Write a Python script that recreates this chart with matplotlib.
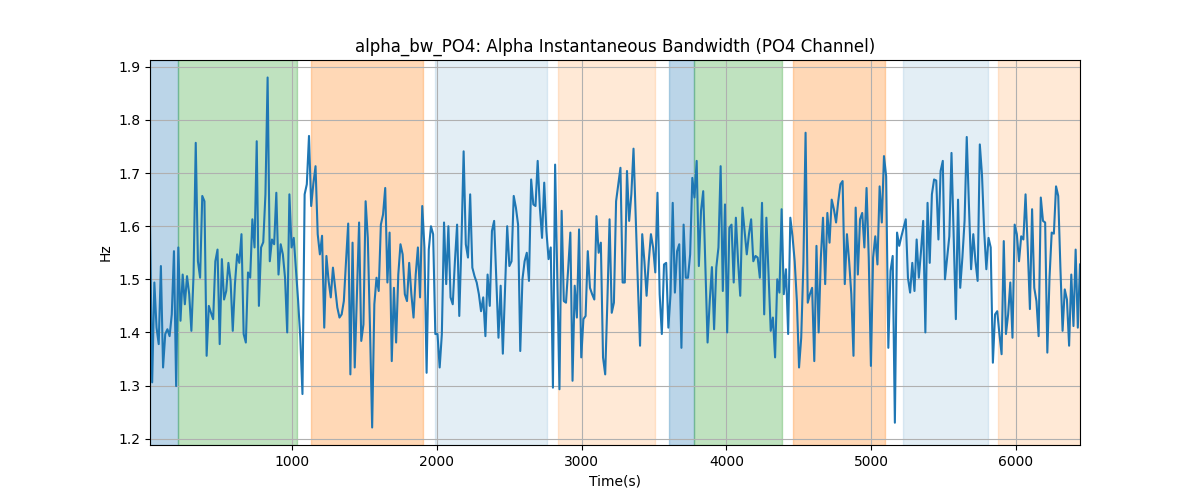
import numpy as np
import matplotlib
matplotlib.use("Agg")
import matplotlib.pyplot as plt

# Values, segment by segment (left to right)
seg1 = [1.597, 1.306, 1.494, 1.409, 1.378, 1.525, 1.334, 1.397, 1.406, 1.393,
        1.434, 1.553, 1.299, 1.560, 1.422, 1.509, 1.453, 1.506, 1.472, 1.403,
        1.509, 1.757, 1.534, 1.503, 1.657, 1.647, 1.356, 1.450, 1.437, 1.425,
        1.534, 1.556, 1.378, 1.538, 1.462, 1.478, 1.531, 1.497, 1.403, 1.491,
        1.547, 1.531, 1.585, 1.397, 1.381, 1.513, 1.503, 1.613, 1.560, 1.760,
        1.450, 1.560, 1.570, 1.660, 1.880]
seg2 = [1.534, 1.575, 1.566, 1.663, 1.509, 1.566, 1.547, 1.503, 1.400, 1.660,
        1.560, 1.578, 1.520, 1.460, 1.390, 1.284, 1.660, 1.679, 1.770, 1.638,
        1.680, 1.713, 1.585, 1.547, 1.582, 1.409, 1.544, 1.497, 1.466, 1.522,
        1.484, 1.447, 1.428, 1.434, 1.459, 1.534, 1.605, 1.321, 1.569, 1.334,
        1.472, 1.607, 1.384, 1.415, 1.647, 1.578, 1.409, 1.221, 1.453, 1.503,
        1.478, 1.603]
seg3 = [1.622, 1.672, 1.494, 1.588, 1.346, 1.484, 1.381, 1.509, 1.566, 1.547,
        1.472, 1.459, 1.531, 1.472, 1.428, 1.509, 1.560, 1.466, 1.638, 1.560,
        1.324, 1.556, 1.600, 1.585, 1.397, 1.397, 1.334, 1.397, 1.607, 1.491,
        1.600, 1.466, 1.453, 1.534, 1.603, 1.431, 1.569, 1.741, 1.566, 1.541,
        1.660, 1.522, 1.506, 1.494, 1.472, 1.440, 1.466, 1.393, 1.509, 1.450,
        1.591, 1.610, 1.500]
seg4 = [1.390, 1.488, 1.360, 1.480, 1.600, 1.525, 1.534, 1.657, 1.635, 1.603,
        1.365, 1.500, 1.534, 1.550, 1.497, 1.688, 1.641, 1.638, 1.723, 1.635,
        1.578, 1.682, 1.591, 1.538, 1.560, 1.296, 1.716, 1.500, 1.293, 1.629,
        1.459, 1.456, 1.520, 1.588, 1.309, 1.488, 1.428, 1.594, 1.353, 1.425,
        1.431, 1.553, 1.484, 1.472, 1.462, 1.619, 1.550, 1.569, 1.353, 1.321,
        1.459, 1.613, 1.437]
seg5 = [1.456, 1.647, 1.679, 1.710, 1.494, 1.494, 1.704, 1.610, 1.660, 1.746,
        1.616, 1.491, 1.375, 1.585, 1.534, 1.469, 1.534, 1.585, 1.560, 1.513,
        1.663, 1.472, 1.397, 1.528, 1.531, 1.409, 1.472, 1.644, 1.475, 1.553,
        1.566, 1.371, 1.603, 1.503, 1.503, 1.547, 1.691, 1.654, 1.723, 1.525,
        1.629, 1.666, 1.522, 1.381, 1.459, 1.523, 1.406, 1.522, 1.560, 1.713,
        1.478, 1.641, 1.400]
seg6 = [1.597, 1.603, 1.494, 1.616, 1.534, 1.469, 1.635, 1.591, 1.547, 1.585,
        1.613, 1.534, 1.544, 1.541, 1.503, 1.644, 1.434, 1.616, 1.509, 1.403,
        1.428, 1.353, 1.500, 1.475, 1.632, 1.472, 1.519, 1.397, 1.616, 1.581,
        1.534, 1.459, 1.334, 1.390, 1.530, 1.776, 1.456, 1.472, 1.484, 1.346,
        1.563, 1.400, 1.540, 1.616, 1.491, 1.625, 1.569, 1.650, 1.632, 1.607,
        1.647, 1.679, 1.685, 1.491]
seg7 = [1.585, 1.534, 1.472, 1.356, 1.635, 1.509, 1.613, 1.625, 1.560, 1.672,
        1.541, 1.337, 1.541, 1.581, 1.528, 1.675, 1.607, 1.732, 1.694, 1.371,
        1.516, 1.544, 1.230, 1.588, 1.563, 1.581, 1.597, 1.613, 1.503, 1.475,
        1.531, 1.478, 1.575, 1.503, 1.553, 1.610, 1.400, 1.644, 1.531, 1.660,
        1.688, 1.686, 1.575, 1.704, 1.723, 1.500, 1.541, 1.581, 1.738, 1.580,
        1.425, 1.650, 1.484]
seg8 = [1.541, 1.610, 1.768, 1.640, 1.519, 1.585, 1.534, 1.497, 1.754, 1.697,
        1.591, 1.519, 1.578, 1.560, 1.343, 1.434, 1.440, 1.397, 1.359, 1.572,
        1.397, 1.434, 1.494, 1.390, 1.603, 1.585, 1.534, 1.581, 1.575, 1.660,
        1.560, 1.444, 1.632, 1.484, 1.459, 1.393, 1.654, 1.610, 1.607, 1.362,
        1.503, 1.588, 1.586, 1.675, 1.657, 1.522, 1.403, 1.481, 1.462, 1.375,
        1.509, 1.412, 1.556, 1.409, 1.528]

bandwidth = seg1 + seg2 + seg3 + seg4 + seg5 + seg6 + seg7 + seg8
t_start, t_end = 18, 6443

# Shaded segments (start, end, colour, alpha)
span_starts = [15, 213, 1128, 1990, 2834, 3604, 3776, 4459, 5222, 5879]
span_ends = [213, 1033, 1907, 2758, 3505, 3776, 4383, 5097, 5807, 6443]
span_colors = ["C0", "C2", "C1", "C0", "C1", "C0", "C2", "C1", "C0", "C1"]
span_alphas = [0.3, 0.3, 0.3, 0.12, 0.17, 0.3, 0.3, 0.3, 0.12, 0.17]

time = np.linspace(t_start, t_end, len(bandwidth))

fig, ax = plt.subplots(figsize=(12, 5), dpi=100)
for s, e, c, a in zip(span_starts, span_ends, span_colors, span_alphas):
    ax.axvspan(s, e, color=c, alpha=a)
ax.plot(time, bandwidth, color="C0", linewidth=1.5)
ax.set_xlim(time[0], time[-1])
ax.grid(True)
ax.set_title("alpha_bw_PO4: Alpha Instantaneous Bandwidth (PO4 Channel)")
ax.set_xlabel("Time(s)")
ax.set_ylabel("Hz")
fig.savefig("out.png")
